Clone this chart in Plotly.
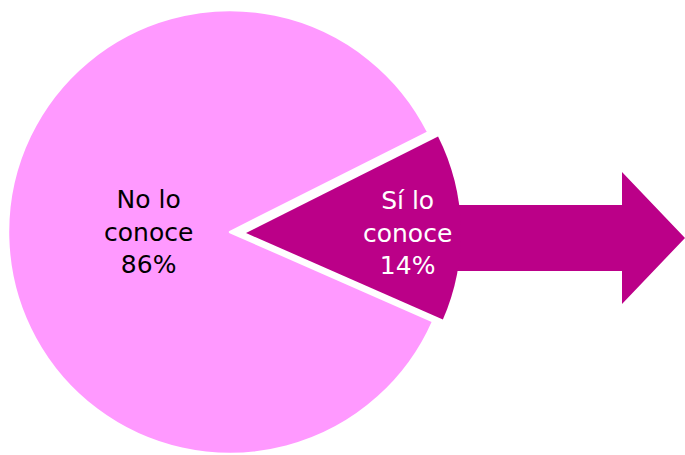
import plotly.graph_objects as go

# Data
categories = ["No lo conoce", "Sí lo conoce"]
values = [86, 14]
label_lines = ["No lo<br>conoce", "Sí lo<br>conoce"]

# Styles
PINK = "#FF99FF"
MAGENTA = "#BB0088"
W, H = 685, 455
FONT = "DejaVu Sans"
FSIZE = 25

texts = [f"{l}<br>{v}%" for l, v in zip(label_lines, values)]

def px_dom_x(a, b):
    return [a / W, b / W]

def px_dom_y(top, bottom):
    return [1 - bottom / H, 1 - top / H]

common = dict(
    labels=categories,
    values=values,
    sort=False,
    direction="clockwise",
    rotation=113.7,
    textinfo="text",
    textposition="inside",
    insidetextorientation="horizontal",
    showlegend=False,
    hoverinfo="label+percent",
)

# Main pie: big slice (its label is placed as an annotation below)
t1 = go.Pie(
    **common,
    text=["", ""],
    marker=dict(colors=[PINK, "rgba(0,0,0,0)"],
                line=dict(color=["white", "rgba(0,0,0,0)"], width=[2.5, 0])),
    domain=dict(x=px_dom_x(8, 452), y=px_dom_y(10, 454)),
)

# Exploded small slice (offset to the right)
t2 = go.Pie(
    **common,
    text=["", texts[1]],
    marker=dict(colors=["rgba(0,0,0,0)", MAGENTA],
                line=dict(color=["rgba(0,0,0,0)", MAGENTA], width=[0, 0])),
    textfont=dict(family=FONT, size=FSIZE, color="white"),
    domain=dict(x=px_dom_x(31, 461), y=px_dom_y(18, 448)),
)

fig = go.Figure([t1, t2])

# Label of the big slice
fig.add_annotation(text=texts[0], x=148 / W, y=1 - 232 / H, xref="paper", yref="paper",
                   showarrow=False, xanchor="center", yanchor="middle",
                   font=dict(family=FONT, size=FSIZE, color="black"))

# Arrow decoration
pts = [(440, 205), (622, 205), (622, 172), (685, 238), (622, 304), (622, 271), (440, 271)]
path = "M " + " L ".join(f"{x / W:.5f},{1 - y / H:.5f}" for x, y in pts) + " Z"
fig.add_shape(type="path", path=path, xref="paper", yref="paper",
              fillcolor=MAGENTA, line=dict(width=0), layer="below")

fig.update_layout(
    width=W, height=H,
    margin=dict(l=0, r=0, t=0, b=0),
    paper_bgcolor="white",
    plot_bgcolor="white",
    uniformtext=dict(minsize=FSIZE, mode="show"),
)

fig.write_html(
    "out.html",
    config={"displayModeBar": False},
    post_script="document.body.style.margin='0';document.body.style.overflow='hidden';",
)
